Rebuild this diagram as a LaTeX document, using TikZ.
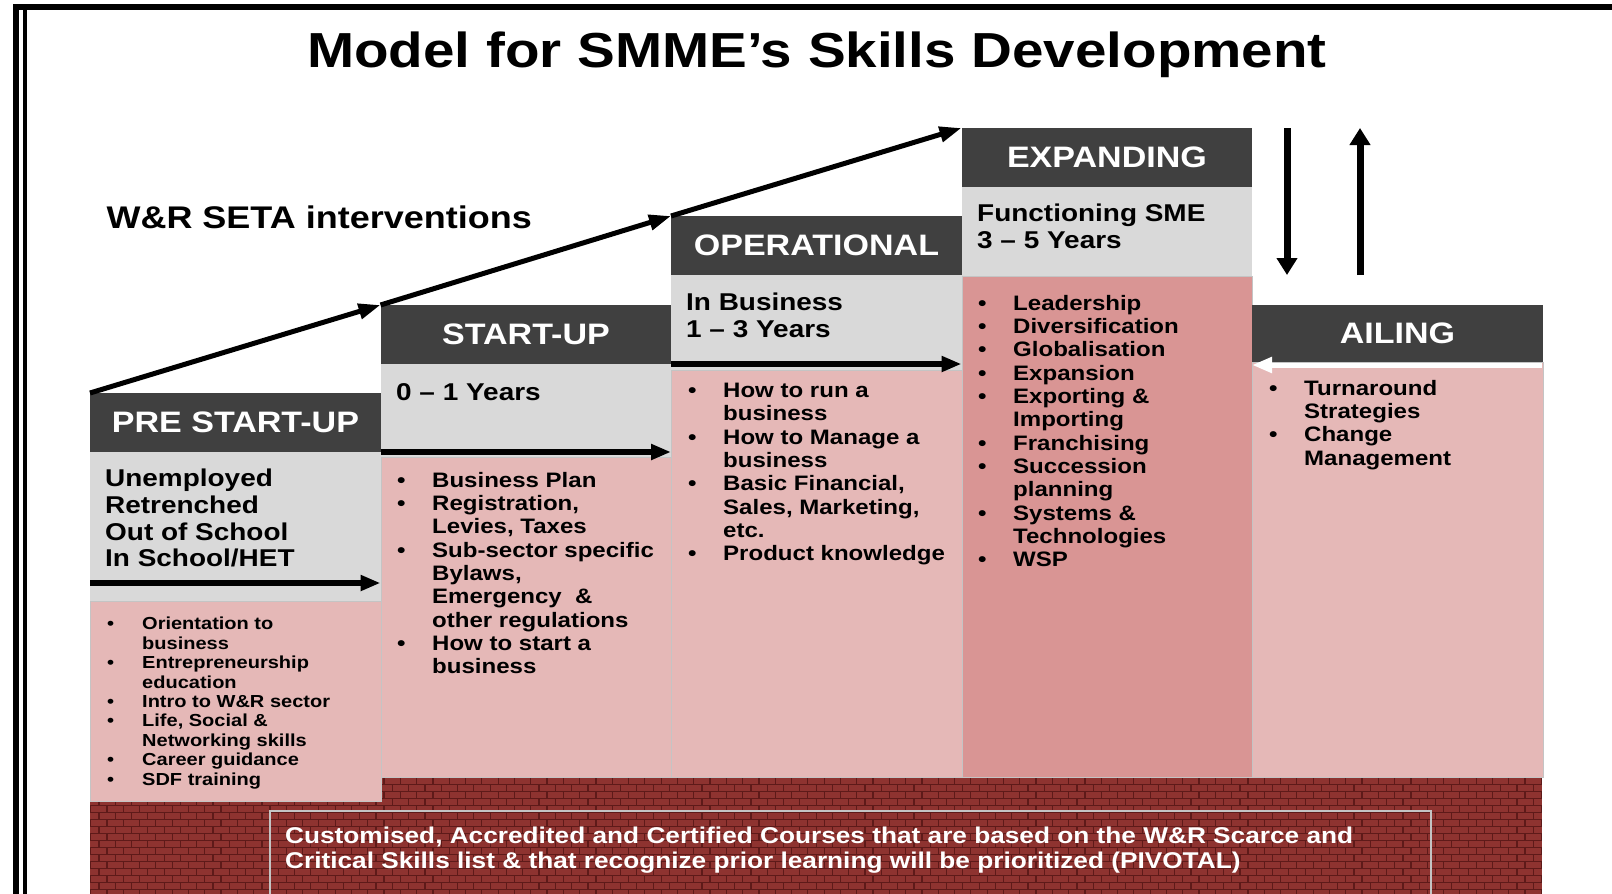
\documentclass[tikz,border=0pt]{standalone}
\usepackage{xcolor}
\usepackage{fontspec}
\setmainfont{Liberation Sans}[FakeStretch=1.15]
\usepackage{tikz}
\usetikzlibrary{arrows.meta}

\definecolor{hdrgray}{HTML}{404040}
\definecolor{palegray}{HTML}{D9D9D9}
\definecolor{rosepink}{HTML}{E5B8B7}
\definecolor{deeppink}{HTML}{D99594}
\definecolor{brickred}{HTML}{8E3330}
\definecolor{mortar}{HTML}{5E1A19}
\definecolor{rimgray}{HTML}{C4C4C4}

% bullet item and its continuation line
\newcommand{\bul}[1]{\makebox[35pt][l]{\textbullet}#1}
\newcommand{\nxt}[1]{\makebox[35pt][l]{}#1}

\begin{document}
\begin{tikzpicture}[x=1pt, y=-1pt,
    hdr/.style={fill=hdrgray, text=white, minimum width=290.5pt, minimum height=59pt,
      inner sep=0pt, anchor=north west, font=\fontsize{29.6}{34}\selectfont},
    grybox/.style={fill=palegray, minimum width=290.5pt, inner sep=0pt, anchor=north west},
    pinkbox/.style={fill=rosepink, draw=rimgray, line width=1.2pt, minimum width=290.5pt,
      inner sep=0pt, anchor=north west},
    labeltxt/.style={anchor=north west, inner sep=0pt, align=left, font=\fontsize{24.3}{26.7}\selectfont},
    listtxt/.style={anchor=north west, inner sep=0pt, align=left, font=\fontsize{20.9}{23.3}\selectfont},
    stepline/.style={line width=5pt, -{Triangle[length=22pt, width=15pt]}},
    flowline/.style={line width=6pt, -{Triangle[length=20pt, width=15pt]}},
    turnline/.style={line width=7pt, -{Triangle[length=17pt, width=20pt]}}]
            \useasboundingbox (0,0) rectangle (1612,894);
            {\bfseries

            % Drawing the page border
            \draw [line width=6pt] (16,894) -- (16,6.5) -- (1612,6.5);%
            \draw [line width=4pt] (24.5,9.5) -- (24.5,894);%

            % Drawing the brick wall
            \begin{scope}
            \clip (90,777) rectangle (1542,894);
            \fill [brickred] (90,777) rectangle (1542,894);%
            \foreach \r in {0,...,16} {
              \pgfmathsetmacro{\yy}{777+7*\r}
              \pgfmathsetmacro{\ph}{8*mod(\r,2)}
              \draw [mortar, line width=1pt] (90,\yy) -- (1542,\yy);%
              \draw [mortar, line width=6pt, dash pattern=on 1.2pt off 15.1pt, dash phase=\ph pt]
                (90,\yy+3.5) -- (1542,\yy+3.5);%
            }
            \end{scope}

            % Title and caption
            \node [anchor=base, font=\fontsize{49.2}{58}\selectfont] (title) at (817,67) {Model for SMME’s Skills Development};%
            \node [anchor=base west, font=\fontsize{31.3}{36}\selectfont] (seta) at (103,228) {W\&R SETA interventions};%

            % Stage PRE START-UP
            \node [pinkbox, minimum height=200pt] (preP) at (90,601) {};%
            \node [grybox, minimum height=149pt] (preG) at (90,452) {};%
            \node [hdr] (preH) at (90,393) {PRE START-UP};%
            \node [labeltxt] (preT) at (105,469) {Unemployed\\Retrenched\\Out of School\\In School/HET};%
            \node [listtxt, font=\fontsize{17.4}{19.4}\selectfont] (preL) at (107,617)
              {\bul{Orientation to}\\\nxt{business}\\\bul{Entrepreneurship}\\\nxt{education}\\
               \bul{Intro to W\&R sector}\\\bul{Life, Social \&}\\\nxt{Networking skills}\\
               \bul{Career guidance}\\\bul{SDF training}};%

            % Stage START-UP
            \node [pinkbox, minimum height=320pt] (startP) at (380.5,457) {};%
            \node [grybox, minimum height=93pt] (startG) at (380.5,364) {};%
            \node [hdr] (startH) at (380.5,305) {START-UP};%
            \node [labeltxt] (startT) at (396,383) {0 -- 1 Years};%
            \node [listtxt] (startL) at (397,472)
              {\bul{Business Plan}\\\bul{Registration,}\\\nxt{Levies, Taxes}\\
               \bul{Sub-sector specific}\\\nxt{Bylaws,}\\\nxt{Emergency~ \&}\\\nxt{other regulations}\\
               \bul{How to start a}\\\nxt{business}};%

            % Stage OPERATIONAL
            \node [pinkbox, minimum height=407pt] (operP) at (671,370) {};%
            \node [grybox, minimum height=95pt] (operG) at (671,275) {};%
            \node [hdr] (operH) at (671,216) {OPERATIONAL};%
            \node [labeltxt] (operT) at (686,293) {In Business\\1 -- 3 Years};%
            \node [listtxt] (operL) at (688,383)
              {\bul{How to run a}\\\nxt{business}\\\bul{How to Manage a}\\\nxt{business}\\
               \bul{Basic Financial,}\\\nxt{Sales, Marketing,}\\\nxt{etc.}\\\bul{Product knowledge}};%

            % Stage EXPANDING
            \node [pinkbox, fill=deeppink, minimum height=501pt] (expP) at (961.5,276) {};%
            \node [grybox, minimum height=89pt] (expG) at (961.5,187) {};%
            \node [hdr] (expH) at (961.5,128) {EXPANDING};%
            \node [labeltxt] (expT) at (977,204) {Functioning SME\\3 -- 5 Years};%
            \node [listtxt] (expL) at (978,295)
              {\bul{Leadership}\\\bul{Diversification}\\\bul{Globalisation}\\\bul{Expansion}\\
               \bul{Exporting \&}\\\nxt{Importing}\\\bul{Franchising}\\\bul{Succession}\\\nxt{planning}\\
               \bul{Systems \&}\\\nxt{Technologies}\\\bul{WSP}};%

            % Stage AILING
            \node [pinkbox, minimum height=415pt] (ailP) at (1252,362) {};%
            \node [hdr, minimum height=57pt] (ailH) at (1252,305) {AILING};%
            \node [listtxt] (ailL) at (1269,380)
              {\bul{Turnaround}\\\nxt{Strategies}\\\bul{Change}\\\nxt{Management}};%

            % Courses note on the wall
            \draw [rimgray, line width=1.5pt] (270,900) |- (1431,811) -- (1431,900);%
            \node [anchor=north west, inner sep=0pt, align=left, text=white,
              font=\fontsize{22.8}{25}\selectfont] (note) at (285,827)
              {Customised, Accredited and Certified Courses that are based on the W\&R Scarce and\\
               Critical Skills list \& that recognize prior learning will be prioritized (PIVOTAL)};%

            % Drawing the steps between stages
            \draw [stepline] (preH.north west) -- (startH.north west);%
            \draw [stepline] (startH.north west) -- (operH.north west);%
            \draw [stepline] (operH.north west) -- (expH.north west);%

            % Drawing the flow under each stage
            \coordinate (preA) at (90,583);%
            \coordinate (preB) at (380.5,583);%
            \coordinate (startA) at (380.5,452);%
            \coordinate (startB) at (671,452);%
            \coordinate (operA) at (671,364);%
            \coordinate (operB) at (961.5,364);%
            \draw [flowline] (preA) -- (preB);%
            \draw [flowline] (startA) -- (startB);%
            \draw [flowline] (operA) -- (operB);%

            % Drawing the turn between EXPANDING and AILING
            \coordinate (dnA) at (1287,128);%
            \coordinate (dnB) at (1287,275);%
            \coordinate (upA) at (1360,275);%
            \coordinate (upB) at (1360,128);%
            \draw [turnline] (dnA) -- (dnB);%
            \draw [turnline] (upA) -- (upB);%
            \coordinate (ailA) at (1542,365);%
            \coordinate (ailB) at (1252,365);%
            \draw [flowline, white, line width=5pt] (ailA) -- (ailB);%
            }
        \end{tikzpicture}
\end{document}
